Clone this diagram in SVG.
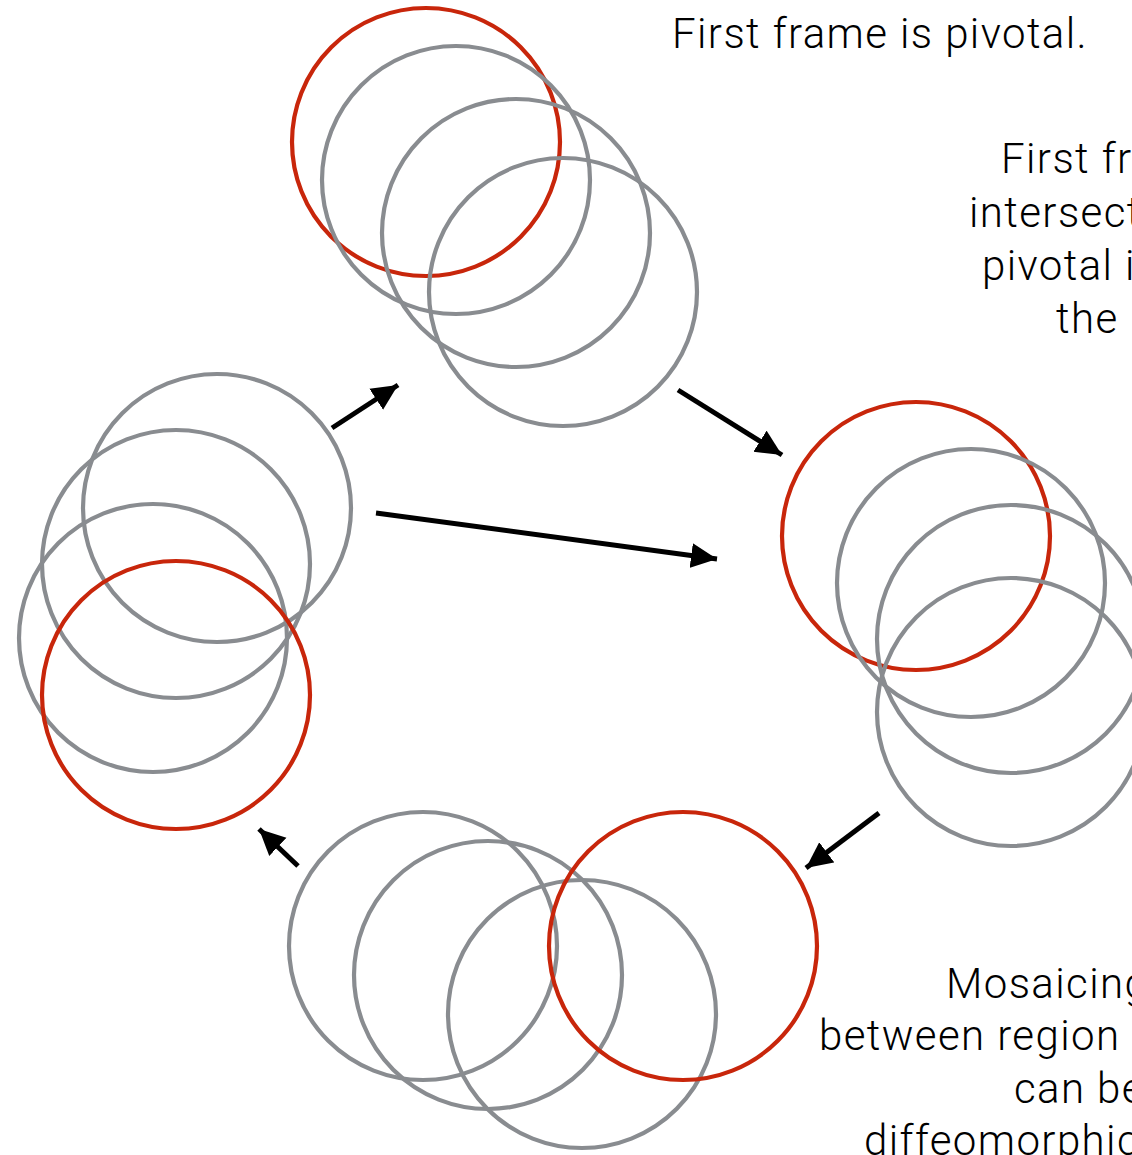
<svg xmlns="http://www.w3.org/2000/svg" width="1132" height="1155" viewBox="0 0 1132 1155">
<style>
.g{fill:none;stroke:#898c90;stroke-width:4.2}
.r{fill:none;stroke:#c8260b;stroke-width:4.2}
.a{fill:none;stroke:#000;stroke-width:5;marker-end:url(#ah)}
.t{font-family:Roboto,"Liberation Sans",sans-serif;font-weight:300;font-size:42px;letter-spacing:1.4px;fill:#000}
</style>
<defs>
<marker id="ah" markerUnits="userSpaceOnUse" markerWidth="28" markerHeight="26" refX="26" refY="12.5" orient="auto" viewBox="0 0 28 25">
<path d="M0,0 L26,12.5 L0,25 Z" fill="#000"/>
</marker>
</defs>
<rect width="1132" height="1155" fill="#fff"/>
<g id="top-group">
<circle class="r" cx="426" cy="142" r="134"/>
<circle class="g" cx="456" cy="180" r="134"/>
<circle class="g" cx="516" cy="233" r="134"/>
<circle class="g" cx="563" cy="292" r="134"/>
</g>
<g id="right-group">
<circle class="r" cx="916" cy="536" r="134"/>
<circle class="g" cx="971" cy="583" r="134"/>
<circle class="g" cx="1011" cy="639" r="134"/>
<circle class="g" cx="1011" cy="712" r="134"/>
</g>
<g id="left-group">
<circle class="g" cx="217" cy="508" r="134"/>
<circle class="g" cx="176" cy="564" r="134"/>
<circle class="g" cx="153" cy="638" r="134"/>
<circle class="r" cx="176" cy="695" r="134"/>
</g>
<g id="bottom-group">
<circle class="g" cx="423" cy="946" r="134"/>
<circle class="g" cx="488" cy="975" r="134"/>
<circle class="g" cx="582" cy="1014" r="134"/>
<circle class="r" cx="683" cy="946" r="134"/>
</g>
<g id="connectors">
<line class="a" x1="332" y1="428" x2="398" y2="385"/>
<line class="a" x1="678" y1="390" x2="782" y2="455"/>
<line class="a" x1="376" y1="513" x2="717" y2="559"/>
<line class="a" x1="879" y1="813" x2="806" y2="868"/>
<line class="a" x1="298" y1="866" x2="259" y2="829"/>
</g>
<g id="labels">
<text class="t" x="672" y="48">First frame is pivotal.</text>
<text class="t" x="1001" y="173">First fra</text>
<text class="t" x="969" y="227">intersect</text>
<text class="t" x="982" y="280">pivotal i</text>
<text class="t" x="1056" y="333">the</text>
<text class="t" x="946" y="998">Mosaicing</text>
<text class="t" x="819" y="1050">between region</text>
<text class="t" x="1014" y="1103">can be</text>
<text class="t" x="864" y="1155">diffeomorphic</text>
</g>
</svg>
